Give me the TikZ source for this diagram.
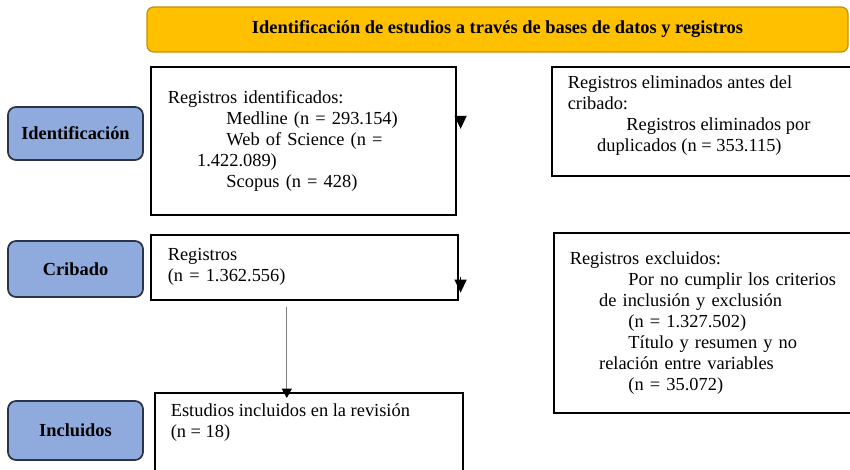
\documentclass[tikz,border=0pt]{standalone}
\usepackage{fontspec}
\setmainfont{Liberation Serif}
\usepackage{xcolor}
\usetikzlibrary{arrows.meta,positioning}

\definecolor{headgold}{HTML}{FFC000}
\definecolor{headedge}{HTML}{C29200}
\definecolor{stageblue}{HTML}{8FAADC}
\definecolor{stageedge}{HTML}{2B3445}

\newcommand{\indA}{\hspace*{44pt}}
\newcommand{\indB}{\hspace*{22pt}}

\begin{document}
\begin{tikzpicture}[
    x=1pt, y=-1pt,
    font=\fontsize{13.8}{15.75}\selectfont,
    header/.style={rectangle, draw=headedge, line width=0.9pt, rounded corners=5pt, fill=headgold, minimum width=525.75pt, minimum height=33.75pt, font=\fontsize{13.8}{15.75}\selectfont\bfseries},
    stage/.style={rectangle, draw=stageedge, line width=1.3pt, rounded corners=6pt, fill=stageblue, minimum width=101.25pt, font=\fontsize{13.8}{15.75}\selectfont\bfseries},
    box/.style={rectangle, draw, line width=1.2pt, anchor=north west, inner xsep=12.75pt},
    textbox/.style={box, align=left},
    tip/.style={-{Triangle[width=9pt,length=9.75pt]}, line width=1pt}
  ]
    \useasboundingbox (0,0) rectangle (637.5,351.75);

    % Title bar
    \node[header] (title) at (373.125,22.125) {Identificación de estudios a través de bases de datos y registros};

    % Stages
    \node[stage, minimum height=39.75pt] (ident) at (56.625,100.125) {Identificación};
    \node[stage, minimum height=42pt] (crib) at (56.625,201.75) {Cribado};
    \node[stage, minimum height=44.25pt] (incl) at (56.625,322.875) {Incluidos};

    % Boxes
    \node[textbox, text width=203.25pt, minimum height=111pt] (regid) at (112.5,49.5) {Registros identificados:\\ \indA Medline (n = 293.154)\\ \indA Web of Science (n =\\ \indB 1.422.089)\\ \indA Scopus (n = 428)};
    \node[box, inner xsep=12pt, inner ysep=7pt] (elim) at (413.25,49.5) {\parbox[t][67.75pt][t]{215.25pt}{Registros eliminados antes del\\ cribado:\\ \indA Registros eliminados por\\ \indB duplicados (n = 353.115)}};
    \node[textbox, text width=204.75pt, minimum height=48.75pt] (regs) at (112.5,175.5) {Registros\\ (n = 1.362.556)};
    \node[textbox, inner xsep=12pt, text width=213.75pt, minimum height=135pt] (excl) at (414.75,174) {Registros excluidos:\\ \indA Por no cumplir los criterios\\ \indB de inclusión y exclusión\\ \indA (n = 1.327.502)\\ \indA Título y resumen y no\\ \indB relación entre variables\\ \indA (n = 35.072)};
    \node[box, inner xsep=12pt, inner ysep=8.5pt] (estud) at (115.5,294) {\parbox[t][64pt][t]{207pt}{Estudios incluidos en la revisión\\ (n = 18)}};

    % Arrows
    \draw[tip] ([xshift=3pt,yshift=18.75pt]regid.east) -- ([xshift=3pt,yshift=9pt]regid.east);
    \draw[tip] ([xshift=1.5pt,yshift=-7pt]regs.east) -- ([xshift=1.5pt,yshift=-19pt]regs.east);
    \draw[gray, line width=0.8pt, -{Triangle[width=7.5pt,length=7pt,color=black]}, shorten <=4.5pt, shorten >=-4.5pt] ([xshift=-13.125pt]regs.south) -- ([xshift=-13.125pt]regs.south |- estud.north);
\end{tikzpicture}
\end{document}
